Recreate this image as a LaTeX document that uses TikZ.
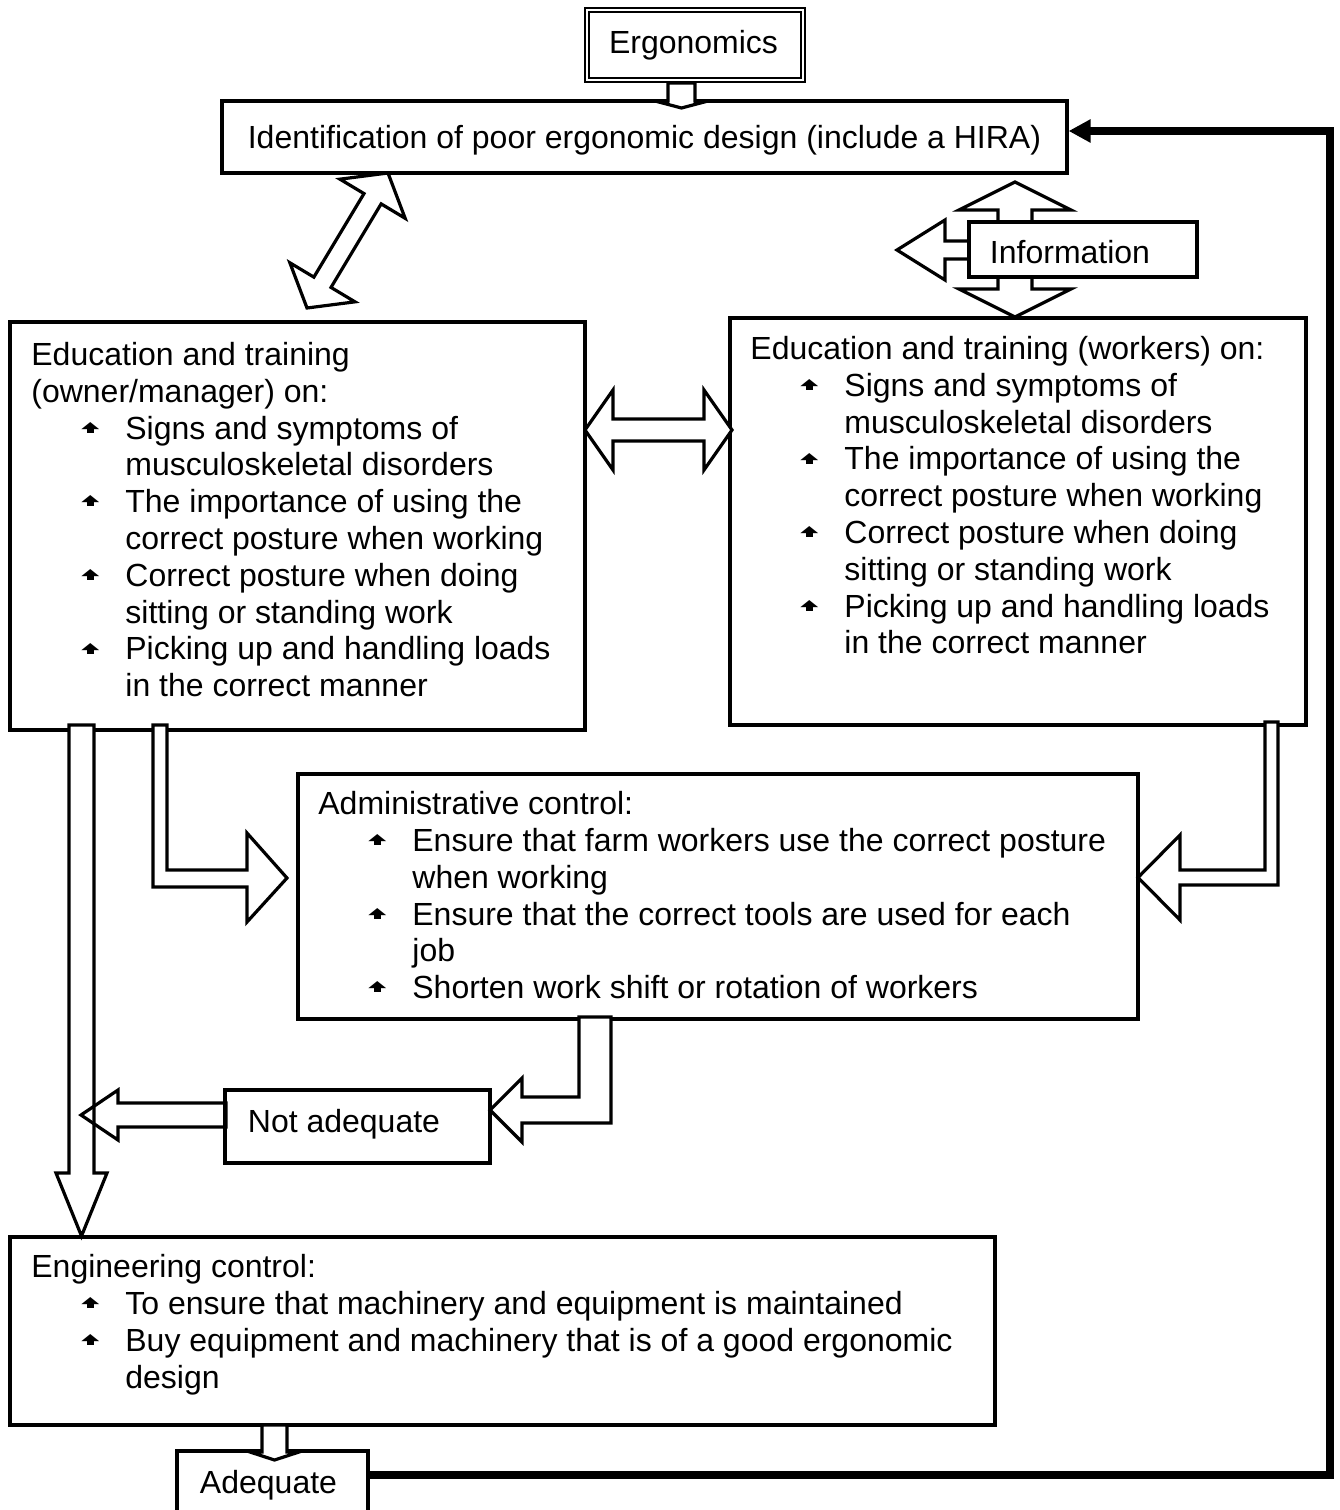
\documentclass[tikz,border=0pt]{standalone}
\usepackage{fontspec}
\usepackage{graphicx}
\setmainfont{Liberation Sans}
\newfontfamily\symfont{DejaVu Sans}
\usetikzlibrary{calc,arrows.meta}

% body text size and leading
\newcommand\mainfnt{\fontsize{16pt}{18.4pt}\selectfont}

% small "house" bullet: flattened triangle over a short stem
\newcommand\bulglyph{\makebox[7pt]{\rlap{\makebox[7pt]{\rule[3.2pt]{3.8pt}{2.4pt}}}\makebox[7pt]{\raisebox{5.4pt}{\resizebox{9pt}{3pt}{\symfont ▲}}}}}
\newcommand\itm{\makebox[47pt][l]{\hspace*{26pt}\bulglyph}}
\newcommand\cnt{\hspace*{47pt}}

% block arrow with heads at both ends: style, A, B, shaft half width, head half width, head length
\newcommand\twohead[6]{%
  \coordinate (ha) at ($(#2)!#6!(#3)$);
  \coordinate (hb) at ($(#3)!#6!(#2)$);
  \draw[#1] (#2) -- ($(ha)!#5!90:(#3)$) -- ($(ha)!#4!90:(#3)$) -- ($(hb)!#4!90:(#3)$)
    -- ($(hb)!#5!90:(#3)$) -- (#3) -- ($(hb)!#5!-90:(#3)$) -- ($(hb)!#4!-90:(#3)$)
    -- ($(ha)!#4!-90:(#3)$) -- ($(ha)!#5!-90:(#3)$) -- cycle;}
% block arrow with one head at B
\newcommand\onehead[6]{%
  \coordinate (hb) at ($(#3)!#6!(#2)$);
  \draw[#1] ($(#2)!#4!90:(#3)$) -- ($(hb)!#4!90:(#3)$) -- ($(hb)!#5!90:(#3)$) -- (#3)
    -- ($(hb)!#5!-90:(#3)$) -- ($(hb)!#4!-90:(#3)$) -- ($(#2)!#4!-90:(#3)$) -- cycle;}

\tikzset{
  box/.style={draw, line width=1.6pt, fill=white, inner sep=0pt},
  blk/.style={draw, line width=1.6pt, fill=white, line join=miter},
  blkopen/.style={draw, line width=1.6pt, line join=miter},
  txt/.style={anchor=north west, inner sep=0pt, align=left, font=\mainfnt},
  lbl/.style={anchor=base, inner sep=0pt, font=\mainfnt},
  feedback/.style={line width=3.6pt, line join=miter, -{Triangle[length=11pt,width=11pt]}}
}

\begin{document}
\begin{tikzpicture}[x=0.5pt, y=-0.5pt]
\useasboundingbox (0,0) rectangle (1339,1510);

% arrows around the Information box (drawn first, box sits on top)
\coordinate (ivA) at (1015,182);
\coordinate (ivB) at (1015,317);
\twohead{blk}{ivA}{ivB}{8.5pt}{28pt}{14pt}
\coordinate (ilA) at (980,250);
\coordinate (ilB) at (897,250);
\onehead{blk}{ilA}{ilB}{4.5pt}{15pt}{24pt}

% boxes
\node[box, double, line width=0.9pt, double distance=1.3pt, minimum width=107.9pt, minimum height=34.9pt] (ergo) at (695,45) {};
\node[box, minimum width=422.5pt, minimum height=36pt] (ident) at (644.5,137) {};
\node[box, minimum width=114pt, minimum height=27.5pt] (info) at (1083,249.5) {};
\node[box, minimum width=287.5pt, minimum height=204pt] (owner) at (297.5,526) {};
\node[box, minimum width=288pt, minimum height=203.5pt] (workers) at (1018,521.5) {};
\node[box, minimum width=420pt, minimum height=122.5pt] (admin) at (718,896.5) {};
\node[box, minimum width=132.5pt, minimum height=36.5pt] (notadq) at (357.5,1126.5) {};
\node[box, minimum width=492.5pt, minimum height=94pt] (eng) at (502.5,1331) {};
\node[box, minimum width=95.5pt, minimum height=32pt] (adq) at (272.5,1483) {};

% two-way arrows
\coordinate (dgA) at (307,308);
\coordinate (dgB) at (388,173);
\twohead{blk}{dgA}{dgB}{5pt}{19pt}{15pt}
\coordinate (hzA) at (585,430);
\coordinate (hzB) at (732,430);
\twohead{blk}{hzA}{hzB}{5.5pt}{20pt}{14pt}

% Ergonomics -> identification
\draw[blk] (668,83) -- (695,83) -- (695,101) -- (708,101) -- (681.5,108) -- (655,101) -- (668,101) -- cycle;
% engineering -> adequate
\draw[blk] (262,1425) -- (287,1425) -- (287,1452) -- (299,1452) -- (274.5,1460) -- (250,1452) -- (262,1452) -- cycle;

% owner/manager training -> administrative control
\draw[blk] (153,725) -- (167,725) -- (167,870) -- (247,870) -- (247,833) -- (287,878) -- (247,922)
  -- (247,887) -- (153,887) -- cycle;
% workers training -> administrative control
\draw[blk] (1265,722) -- (1278,722) -- (1278,885) -- (1180,885) -- (1180,920) -- (1138,877.5)
  -- (1180,835) -- (1180,870) -- (1265,870) -- cycle;
% administrative control -> not adequate
\draw[blk] (579,1017) -- (611,1017) -- (611,1123) -- (522,1123) -- (522,1142) -- (490,1110)
  -- (522,1078) -- (522,1097) -- (579,1097) -- cycle;
% owner/manager training -> engineering control
\draw[blk] (69,725) -- (94,725) -- (94,1173) -- (107,1173) -- (81.5,1236) -- (56,1173) -- (69,1173) -- cycle;
% not adequate -> engineering path
\coordinate (naA) at (226,1115);
\coordinate (naB) at (81,1115);
\onehead{blkopen}{naA}{naB}{6pt}{12.5pt}{18.5pt}

% feedback loop from adequate back to identification
\coordinate (fbR) at (1330,1475);
\coordinate (fbT) at (1330,131);
\draw[feedback] (adq.east |- fbR) -- (fbR) -- (fbT) -- (ident.east |- fbT);

% labels
\node[lbl] (ergoT) at (693.5,53) {Ergonomics};
\node[lbl] (identT) at (644.5,148.5) {Identification of poor ergonomic design (include a HIRA)};
\node[lbl] (infoT) at (1070,263) {Information};
\node[lbl] (notadqT) at (344,1132) {Not adequate};
\node[lbl] (adqT) at (268.5,1493) {Adequate};

\node[txt] (ownerT) at (31,342) {Education and training\\
(owner/manager) on:\\
\itm Signs and symptoms of\\
\cnt musculoskeletal disorders\\
\itm The importance of using the\\
\cnt correct posture when working\\
\itm Correct posture when doing\\
\cnt sitting or standing work\\
\itm Picking up and handling loads\\
\cnt in the correct manner};

\node[txt] (workersT) at (750,336) {Education and training (workers) on:\\
\itm Signs and symptoms of\\
\cnt musculoskeletal disorders\\
\itm The importance of using the\\
\cnt correct posture when working\\
\itm Correct posture when doing\\
\cnt sitting or standing work\\
\itm Picking up and handling loads\\
\cnt in the correct manner};

\node[txt] (adminT) at (318,791) {Administrative control:\\
\itm Ensure that farm workers use the correct posture\\
\cnt when working\\
\itm Ensure that the correct tools are used for each\\
\cnt job\\
\itm Shorten work shift or rotation of workers};

\node[txt] (engT) at (31,1254) {Engineering control:\\
\itm To ensure that machinery and equipment is maintained\\
\itm Buy equipment and machinery that is of a good ergonomic\\
\cnt design};
\end{tikzpicture}
\end{document}
